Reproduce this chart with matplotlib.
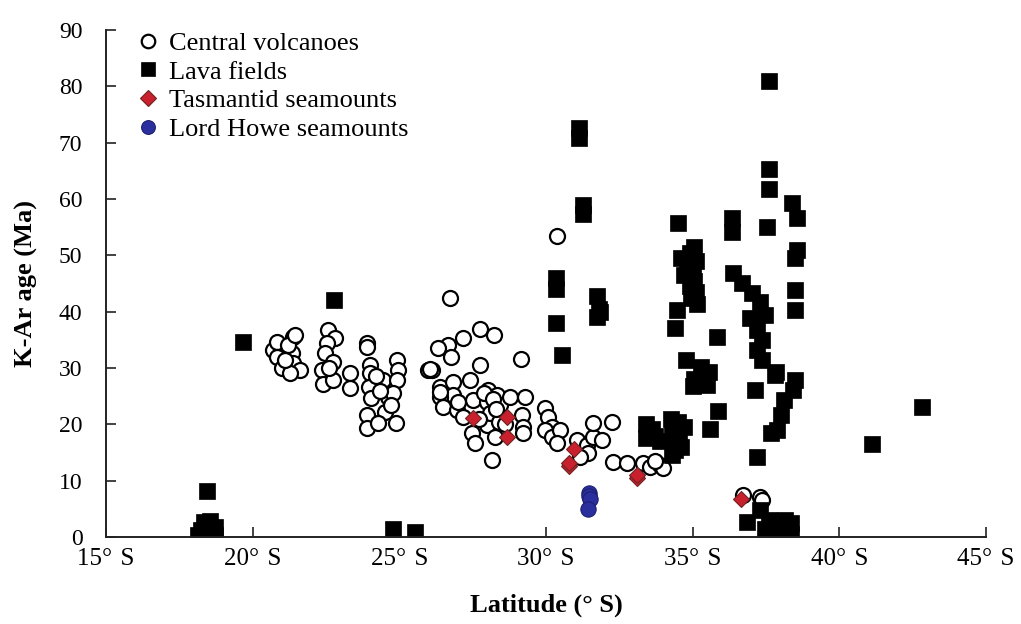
import numpy as np
import matplotlib.pyplot as plt

plt.rcParams['font.family'] = ['Liberation Serif', 'DejaVu Serif']

# K-Ar ages (Ma) against latitude (degrees S)
cv_lat = [20.7, 20.83, 20.83, 21.0, 21.38, 21.35, 21.38, 21.62, 21.28, 21.1, 21.2, 21.45,
          22.57, 22.81, 22.55, 22.45, 22.74, 22.37, 22.4, 22.74, 22.6,
          23.32, 23.32, 23.9, 23.9, 24.0, 24.0, 23.97, 24.03, 23.9, 23.9, 24.45, 24.6, 24.5,
          24.92, 24.95, 24.92, 24.8, 24.9, 24.2, 24.35, 24.7, 24.28, 25.98, 26.12,
          26.73, 27.76, 28.23, 27.18, 26.66, 26.32, 26.77, 26.05, 27.76, 29.15, 26.39, 26.83,
          27.41, 26.83, 26.39, 26.49, 26.97, 27.52, 28.03, 28.34, 28.0, 28.44, 28.78, 29.29,
          29.19, 29.22, 27.99, 27.48, 27.59, 28.17, 28.27, 27.18, 26.4, 27.0, 28.1, 28.4,
          29.2, 27.9, 28.2, 28.3, 27.7, 28.6,
          29.97, 30.07, 30.2, 29.97, 30.2, 30.48, 30.38, 31.06, 31.4, 31.6, 31.43, 31.15,
          31.6, 30.38, 32.26, 31.9,
          32.3, 32.77, 33.3, 33.55, 33.9, 34.0, 33.7,
          36.7, 37.3, 37.35]
cv_age = [33.2, 34.6, 32.0, 30.0, 35.5, 32.7, 30.9, 29.6, 29.1, 31.5, 34.0, 35.9,
          36.7, 35.3, 34.4, 32.7, 31.1, 29.6, 27.2, 27.9, 30.0,
          29.1, 26.5, 34.4, 33.8, 30.5, 29.1, 26.6, 24.7, 21.7, 19.4, 27.9, 24.9, 22.2,
          31.4, 29.6, 27.9, 25.6, 20.2, 28.5, 26.0, 23.5, 20.2, 29.6, 29.6,
          42.4, 36.9, 35.9, 35.3, 34.1, 33.6, 32.0, 29.8, 30.5, 31.6, 26.6, 27.5,
          27.9, 25.2, 24.9, 23.1, 22.5, 24.3, 26.1, 25.2, 24.0, 23.4, 24.9, 24.9,
          21.7, 19.5, 19.9, 18.5, 16.7, 13.7, 17.8, 21.3, 25.8, 24.0, 22.0, 20.5,
          18.5, 25.5, 24.5, 22.8, 21.0, 20.0,
          22.9, 21.3, 19.5, 19.0, 17.8, 19.0, 16.7, 17.2, 16.3, 17.8, 14.9, 14.2,
          20.2, 53.4, 20.4, 17.2,
          13.3, 13.1, 13.1, 12.4, 12.8, 12.2, 13.5,
          7.4, 7.1, 6.5]

lf_lat = [18.14, 18.25, 18.35, 18.3, 18.45, 18.55, 18.6, 18.7, 18.72, 18.44,
          19.67, 22.78, 24.79, 25.54,
          30.35, 30.35, 30.35, 30.55, 31.13, 31.13, 31.27, 31.27, 31.75, 31.8, 31.75, 31.85,
          33.4, 33.4, 33.5, 33.7, 33.9, 34.25, 34.3, 34.35, 34.4, 34.5, 34.55, 34.6, 34.3,
          34.7, 33.6,
          34.5, 35.05, 34.9, 34.6, 35.1, 34.8, 35.0, 34.7, 35.05, 34.9, 35.1, 34.95, 35.15,
          34.47, 34.4, 34.78, 35.3, 35.55, 35.05, 35.5, 35.0, 35.84, 35.26, 35.87, 35.6,
          37.6, 37.6, 37.6, 38.4, 38.57, 36.35, 36.35, 37.55, 38.57, 38.5, 38.5, 38.5, 36.38,
          36.69, 37.03, 37.3, 37.48, 36.96, 37.2, 37.38, 37.2, 37.38, 37.13, 37.82, 38.5,
          38.43, 37.85, 38.12, 38.02, 37.88, 37.68, 37.2,
          36.86, 37.3, 37.6, 37.9, 38.2, 37.75, 38.15, 38.35, 38.35, 37.45,
          41.13, 42.83]
lf_age = [0.4, 1.2, 2.6, 0.6, 1.5, 2.8, 0.8, 1.8, 0.4, 8.2,
          34.6, 42.0, 1.4, 0.9,
          46.0, 44.0, 38.0, 32.3, 72.6, 70.8, 59.0, 57.3, 42.8, 40.5, 39.0, 40.0,
          20.0, 17.5, 18.5, 18.0, 17.0, 21.0, 19.5, 17.5, 15.5, 20.5, 18.5, 16.0, 14.5,
          19.5, 19.2,
          55.8, 51.5, 50.5, 49.5, 49.0, 48.2, 47.0, 46.5, 45.5, 44.5, 43.5, 42.5, 41.3,
          40.3, 37.1, 31.4, 30.2, 29.3, 28.0, 27.0, 26.8, 35.5, 27.2, 22.4, 19.2,
          81.0, 65.3, 61.8, 59.3, 56.6, 56.6, 54.1, 55.0, 51.0, 49.5, 43.8, 40.3, 46.9,
          45.1, 43.3, 41.7, 39.4, 38.9, 36.7, 35.0, 33.2, 31.4, 26.1, 28.8, 27.9,
          26.1, 29.3, 24.3, 21.7, 19.0, 18.5, 14.2,
          2.7, 4.8, 3.0, 1.6, 0.9, 0.8, 3.0, 2.5, 0.5, 1.5,
          16.5, 23.1]

ts_lat = [27.52, 28.68, 28.68, 30.96, 30.79, 30.79, 33.11, 33.11, 36.66]
ts_age = [21.1, 21.3, 17.8, 15.6, 12.6, 13.1, 10.5, 11.0, 6.7]

lh_lat = [31.45, 31.47, 31.5, 31.42]
lh_age = [7.8, 7.2, 6.8, 5.0]

fig = plt.figure(figsize=(10.21, 6.24), dpi=100)
ax = fig.add_axes([106 / 1021, 1 - 537 / 624, 880 / 1021, 507 / 624])

ax.plot(cv_lat, cv_age, 'o', ms=10.8, mfc='white', mec='black', mew=1.6,
        label='Central volcanoes')
ax.plot(lf_lat, lf_age, 's', ms=11.5, mfc='black', mec='black', mew=0.5,
        label='Lava fields')
ax.plot(ts_lat, ts_age, 'D', ms=8.5, mfc='#c8202c', mec='#6e2424', mew=0.8,
        label='Tasmantid seamounts')
ax.plot(lh_lat, lh_age, 'o', ms=11, mfc='#2b2f9e', mec='#1c1f70', mew=0.8,
        label='Lord Howe seamounts')

ax.set_xlim(15, 45)
ax.set_ylim(0, 90)
xt = np.arange(15, 46, 5)
ax.set_xticks(xt)
ax.set_xticklabels([f'{v}°\u2004S' for v in xt], fontsize=18)
ax.set_yticks(np.arange(0, 91, 10))

for side in ['top', 'right']:
    ax.spines[side].set_visible(False)
for side in ['left', 'bottom']:
    ax.spines[side].set_linewidth(1.4)
    ax.spines[side].set_color('#222222')
ax.tick_params(direction='in', length=7, width=1.2, color='#222222')
ax.tick_params(axis='x', pad=8)
ax.tick_params(axis='y', pad=17, labelsize=17)

ax.set_xlabel('Latitude (° S)', fontsize=19, fontweight='bold', labelpad=17)
ax.set_ylabel('K-Ar age (Ma)', fontsize=19, fontweight='bold', labelpad=15)

ax.legend(loc='upper left', bbox_to_anchor=(0.0205, 1.018), frameon=False,
          fontsize=19, handlelength=1.0, handletextpad=0.3, labelspacing=0.2,
          markerscale=0.9, borderaxespad=0)

fig.savefig('out.png', dpi=100)
